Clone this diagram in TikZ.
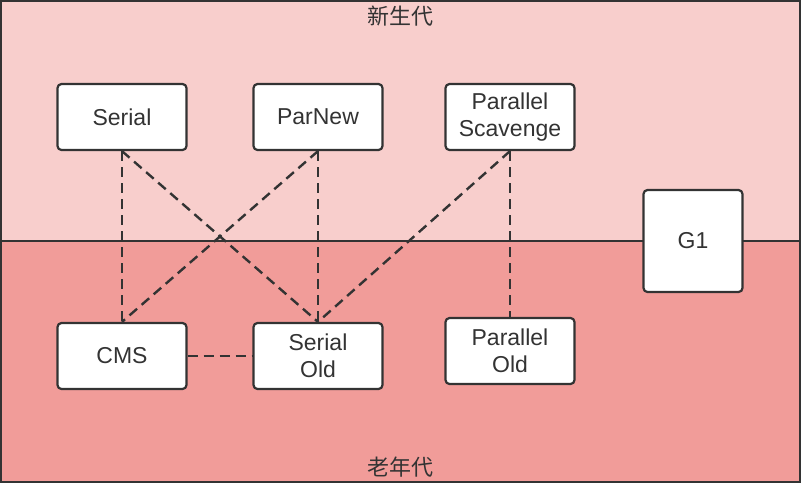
\documentclass[tikz,border=0pt]{standalone}
\usepackage{fontspec}
\setmainfont{Liberation Sans}
\newfontfamily\cjkfont{Noto Sans CJK SC}
\usepackage[]{xcolor}
\definecolor{younggen}{HTML}{F8CECC}
\definecolor{oldgen}{HTML}{F19C99}
\definecolor{inkgray}{HTML}{333333}

\begin{document}
\begin{tikzpicture}[
            x=1pt, y=-1pt,
            node distance=196pt,
            collector/.style={rectangle, draw=inkgray, line width=2.2pt, fill=white, rounded corners=4pt, minimum width=129pt, minimum height=66pt, align=center, text=inkgray, font=\fontsize{23}{27}\selectfont},
            link/.style={draw=inkgray, line width=2.4pt, dash pattern=on 10pt off 6pt},
            region/.style={text=inkgray, font=\cjkfont\fontsize{22}{26}\selectfont}
        ]
            \useasboundingbox (0,0) rectangle (801,483);
            \fill[younggen] (0,0) rectangle (801,241);
            \fill[oldgen] (0,241) rectangle (801,483);
            \draw[inkgray, line width=2pt] (0,241) -- (801,241);
            \draw[inkgray, line width=2pt] (1,1) rectangle (800,482);

            \node[region] (young) at (400,16) {新生代};
            \node[region] (old) at (400,467) {老年代};

            \node[collector] (Serial) at (122,117) {Serial};
            \node[collector, right of=Serial] (ParNew) {ParNew};
            \node[collector] (PS) at (510,117) {Parallel\\Scavenge};
            \node[collector] (CMS) at (122,356) {CMS};
            \node[collector, right of=CMS] (SerialOld) {Serial\\Old};
            \node[collector] (PO) at (510,351) {Parallel\\Old};
            \node[collector, minimum width=99pt, minimum height=102pt] (G1) at (693,241) {G1};

            \draw[link] (Serial.south) -- (CMS.north);
            \draw[link] (Serial.south) -- (SerialOld.north);
            \draw[link] (ParNew.south) -- (SerialOld.north);
            \draw[link] (ParNew.south) -- (CMS.north);
            \draw[link] (PS.south) -- (SerialOld.north);
            \draw[link] (PS.south) -- (PO.north);
            \draw[link] (CMS.east) -- (SerialOld.west);
        \end{tikzpicture}
\end{document}
